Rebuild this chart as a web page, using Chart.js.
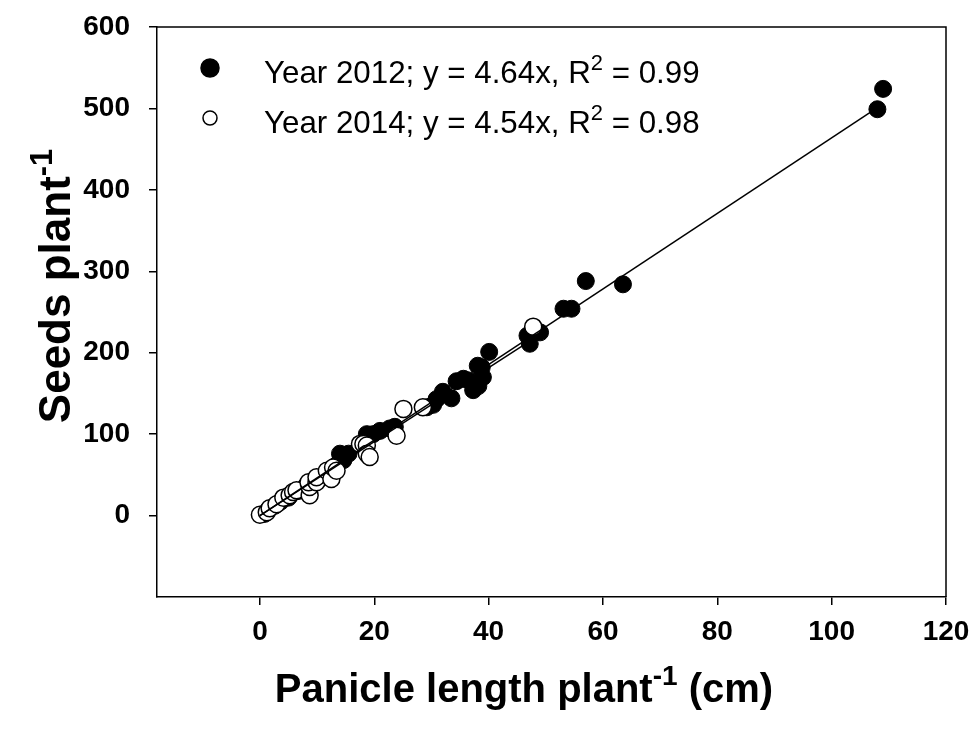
<!DOCTYPE html>
<html>
<head>
<meta charset="utf-8">
<script src="https://cdn.jsdelivr.net/npm/chart.js@4.4.1/dist/chart.umd.min.js"></script>
<style>
  body { margin: 0; background: #fff; }
</style>
</head>
<body>
<canvas id="chart" width="974" height="729"></canvas>
<script>
// Data
const x2012 = [0.8, 1.6, 2.6, 3.6, 5.0, 6.6, 8.0, 10.2, 12.0, 13.4, 14.6, 14.0, 15.5, 18.7, 19.8, 21.0, 22.7, 23.6,
  29.2, 30.3, 30.9, 32.0, 33.5, 34.4, 35.6, 36.5, 37.3, 38.2, 39.0, 38.8, 38.1, 40.1, 46.8, 47.2, 49.0,
  53.1, 54.5, 57.0, 63.5, 108.0, 109.0];
const y2012 = [2, 8, 12, 17, 22, 30, 36, 46, 55, 62, 68, 76, 76, 100, 100, 104, 107, 109,
  133, 136, 143, 152, 144, 165, 168, 166, 154, 159, 170, 182, 184, 201, 221, 211, 225,
  254, 254, 288, 284, 499, 524];
const x2014 = [0.0, 1.2, 1.7, 2.9, 4.1, 5.2, 5.8, 6.4, 8.7, 8.7, 8.5, 9.9, 9.9, 11.7, 12.5, 12.8, 13.4,
  17.5, 18.1, 18.7, 18.7, 19.2, 23.9, 25.1, 28.5, 47.8];
const y2014 = [1, 4, 9, 14, 22, 25, 29, 31, 25, 35, 41, 41, 47, 55, 45, 59, 55,
  88, 88, 86, 76, 72, 98, 131, 133, 232];
// fitted lines (end points)
const fit2012X = [0, 108];
const fit2012Y = [0, 501];
const fit2014X = [0, 47.8];
const fit2014Y = [0, 217];
const xTicks = [0, 20, 40, 60, 80, 100, 120];
const yTicks = [0, 100, 200, 300, 400, 500, 600];
const legendRows = [
  { filled: true, parts: [{ t: "Year 2012; y = 4.64x, R" }, { t: "2", sup: true }, { t: " = 0.99" }] },
  { filled: false, parts: [{ t: "Year 2014; y = 4.54x, R" }, { t: "2", sup: true }, { t: " = 0.98" }] },
];
const xTitle = [{ t: "Panicle length plant" }, { t: "-1", sup: true }, { t: " (cm)" }];
const yTitle = [{ t: "Seeds plant" }, { t: "-1", sup: true }];

const FONT = "'Liberation Sans', Arial, sans-serif";

const toPoints = (xs, ys) => xs.map((x, i) => ({ x: x, y: ys[i] }));

// text with superscripts, drawn at the baseline
const richWidth = (ctx, parts, size, weight) => {
  let w = 0;
  parts.forEach((p) => {
    ctx.font = `${weight} ${p.sup ? size * 0.7 : size}px ${FONT}`;
    w += ctx.measureText(p.t).width;
  });
  return w;
};
const drawRich = (ctx, parts, x, y, size, weight) => {
  let cx = x;
  parts.forEach((p) => {
    ctx.font = `${weight} ${p.sup ? size * 0.7 : size}px ${FONT}`;
    ctx.fillText(p.t, cx, p.sup ? y - size * 0.42 : y);
    cx += ctx.measureText(p.t).width;
  });
};

const decorPlugin = {
  id: "decor",
  afterDraw(chart) {
    const ctx = chart.ctx;
    const a = chart.chartArea;
    ctx.save();
    // frame
    ctx.strokeStyle = "#000";
    ctx.lineWidth = 1.5;
    ctx.beginPath();
    ctx.moveTo(a.left, a.top);
    ctx.lineTo(a.right, a.top);
    ctx.lineTo(a.right, a.bottom);
    ctx.stroke();
    // legend
    ctx.fillStyle = "#000";
    ctx.textBaseline = "alphabetic";
    ctx.textAlign = "left";
    legendRows.forEach((row, i) => {
      const my = 68 + i * 50;
      ctx.beginPath();
      ctx.arc(210, my, row.filled ? 9 : 7, 0, Math.PI * 2);
      ctx.fillStyle = row.filled ? "#000" : "#fff";
      ctx.fill();
      ctx.lineWidth = 1.5;
      ctx.strokeStyle = "#000";
      ctx.stroke();
      ctx.fillStyle = "#000";
      drawRich(ctx, row.parts, 264, 83 + i * 50, 31.3, "normal");
    });
    // x title
    const xs = 40;
    const xw = richWidth(ctx, xTitle, xs, "bold");
    drawRich(ctx, xTitle, 524 - xw / 2, 702, xs, "bold");
    // y title
    const ys = 44;
    const yw = richWidth(ctx, yTitle, ys, "bold");
    ctx.translate(70, 286);
    ctx.rotate(-Math.PI / 2);
    drawRich(ctx, yTitle, -yw / 2, 0, ys, "bold");
    ctx.restore();
  },
};

const tickFont = { family: FONT, size: 28, weight: "bold" };

new Chart(document.getElementById("chart"), {
  type: "scatter",
  data: {
    datasets: [
      {
        label: "fit 2012",
        data: toPoints(fit2012X, fit2012Y),
        showLine: true,
        pointRadius: 0,
        borderColor: "#000",
        borderWidth: 1.5,
        order: 0,
      },
      {
        label: "fit 2014",
        data: toPoints(fit2014X, fit2014Y),
        showLine: true,
        pointRadius: 0,
        borderColor: "#000",
        borderWidth: 1.5,
        order: 0,
      },
      {
        label: "Year 2014",
        data: toPoints(x2014, y2014),
        pointRadius: 8.5,
        backgroundColor: "#fff",
        borderColor: "#000",
        borderWidth: 1.5,
        order: 1,
      },
      {
        label: "Year 2012",
        data: toPoints(x2012, y2012),
        pointRadius: 8.5,
        backgroundColor: "#000",
        borderColor: "#000",
        borderWidth: 1,
        order: 2,
      },
    ],
  },
  options: {
    responsive: false,
    animation: false,
    layout: { padding: 0 },
    plugins: {
      legend: { display: false },
      tooltip: { enabled: false },
    },
    scales: {
      x: {
        type: "linear",
        min: -18,
        max: 120,
        afterBuildTicks: (s) => { s.ticks = xTicks.map((v) => ({ value: v })); },
        afterFit: (s) => {
          s.height = 729 - 597;
          s.paddingLeft = 0;
          s.paddingRight = 28;
        },
        ticks: { font: tickFont, color: "#000", padding: 10 },
        grid: { drawOnChartArea: false, drawTicks: true, tickLength: 8, color: "#000", lineWidth: 1.5 },
        border: { color: "#000", width: 1.5 },
      },
      y: {
        type: "linear",
        min: -100,
        max: 600,
        afterBuildTicks: (s) => { s.ticks = yTicks.map((v) => ({ value: v })); },
        afterFit: (s) => {
          s.width = 157;
          s.paddingTop = 27;
          s.paddingBottom = 0;
        },
        ticks: { font: tickFont, color: "#000", padding: 19 },
        grid: { drawOnChartArea: false, drawTicks: true, tickLength: 8, color: "#000", lineWidth: 1.5 },
        border: { color: "#000", width: 1.5 },
      },
    },
  },
  plugins: [decorPlugin],
});
</script>
</body>
</html>
